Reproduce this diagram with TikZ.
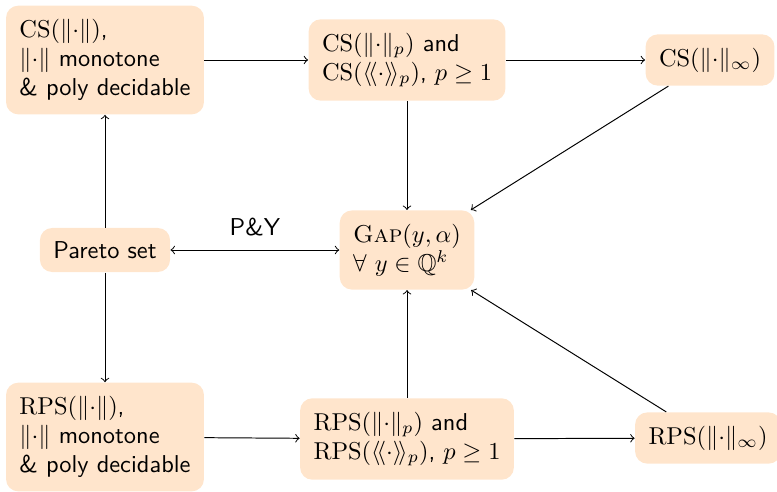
\documentclass[tikz,border=0pt]{standalone}
\usepackage{amsmath,amssymb}
\usepackage{tikz}

\newcommand{\nrm}{\|{\cdot}\|}
\newcommand{\dang}{\langle\!\langle{\cdot}\rangle\!\rangle}

\begin{document}
\begin{tikzpicture}
  [x=0.0144cm,y=-0.0144cm,>=to,
   every node/.style={rounded corners=5pt,fill=orange!20,font=\sffamily,align=left,inner sep=5.5pt}]
  \useasboundingbox (0,0) rectangle (777,491);

  \node (cs)     at (105,60)  {$\mathrm{CS}(\nrm)$,\\ $\nrm$ monotone\\ \& poly decidable};
  \node (csp)    at (407,60)  {$\mathrm{CS}(\nrm_p)$ and\\ $\mathrm{CS}(\dang_p)$, $p \geq 1$};
  \node (csinf)  at (710,60)  {$\mathrm{CS}(\nrm_\infty)$};
  \node (gap)    at (407,250) {{\rmfamily\textsc{Gap}}$(y,\alpha)$\\ $\forall\ y \in \mathbb{Q}^k$};
  \node (pareto) at (105,250) {Pareto set};
  \node (rps)    at (105,437) {$\mathrm{RPS}(\nrm)$,\\ $\nrm$ monotone\\ \& poly decidable};
  \node (rpsp)   at (407,439) {$\mathrm{RPS}(\nrm_p)$ and\\ $\mathrm{RPS}(\dang_p)$, $p \geq 1$};
  \node (rpsinf) at (708,438) {$\mathrm{RPS}(\nrm_\infty)$};

  \foreach \from/\to in {cs/csp,csp/csinf,csp/gap,csinf/gap,pareto/cs,pareto/rps,rps/rpsp,rpsp/rpsinf,rpsp/gap,rpsinf/gap}
    \draw[->] (\from) -- (\to);
  \draw[<->] (pareto) -- node[above,fill=none] {P\&Y} (gap);

\end{tikzpicture}
\end{document}
